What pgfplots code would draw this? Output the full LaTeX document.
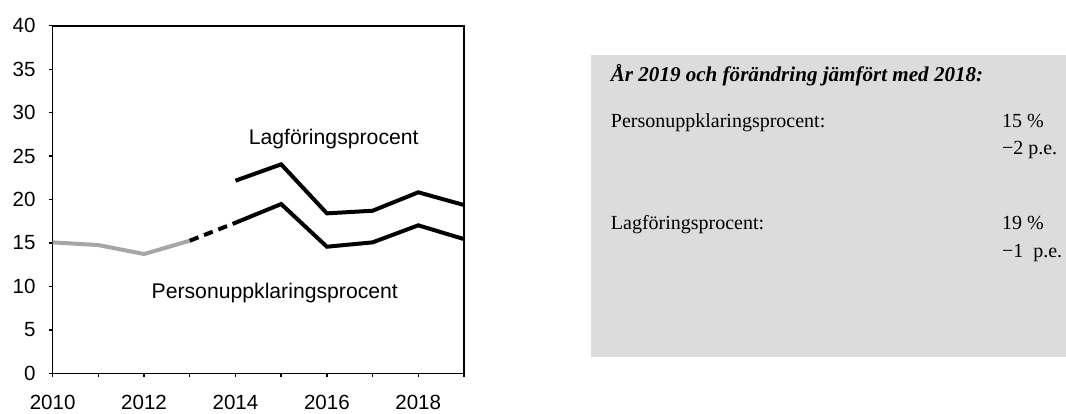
\documentclass[border=0pt]{standalone}
\usepackage{pgfplots}
\pgfplotsset{compat=1.18}
\usepackage{fontspec}
\setmainfont{Liberation Sans}
\newfontfamily\boxfont{Liberation Serif}
\definecolor{boxgray}{HTML}{DCDCDC}
\definecolor{linegray}{HTML}{A6A6A6}
\newcommand\tickfont{\fontsize{15.4}{18}\selectfont}
\newcommand\labelfont{\fontsize{15.9}{18}\selectfont}

\begin{document}
\begin{tikzpicture}[x=1pt,y=1pt]
\path (0,0) rectangle (799.5,306);
% grey summary box
\fill[boxgray] (443.25,38.25) rectangle (799.5,264.75);

\begin{axis}[
  at={(39.5pt,26pt)}, anchor=south west,
  scale only axis, width=308.5pt, height=260.7pt,
  xmin=2010, xmax=2019, ymin=0, ymax=40,
  xtick={2010,...,2019},
  xticklabels={2010,,2012,,2014,,2016,,2018,},
  ytick={0,5,...,40},
  tick pos=left, tick align=outside,
  major tick length=3pt,
  tick style={black, line width=1pt},
  axis line style={line width=1.25pt},
  tick label style={font=\tickfont},
  /pgf/number format/assume math mode=true,
  x tick label style={yshift=-9.5pt},
  y tick label style={xshift=-6.3pt},
]
\addplot[linegray, line width=3pt] coordinates {(2010,15.07)(2011,14.76)(2012,13.73)(2013,15.26)};
\addplot[black, line width=3pt, dash pattern=on 7pt off 4.5pt] coordinates {(2013,15.26)(2014,17.33)};
\addplot[black, line width=3pt] coordinates {(2014,17.33)(2015,19.48)(2016,14.57)(2017,15.07)(2018,17.03)(2019,15.45)};
\addplot[black, line width=3pt] coordinates {(2014,22.17)(2015,24.05)(2016,18.41)(2017,18.71)(2018,20.83)(2019,19.37)};
\node[font=\labelfont] at (axis cs:2016.15,26.96) {Lagföringsprocent};
\node[font=\labelfont] at (axis cs:2014.86,9.24) {Personuppklaringsprocent};
\end{axis}

\begin{scope}[every node/.style={font=\boxfont\fontsize{15}{18}\selectfont, inner sep=0pt, anchor=base west}]
\node[font=\boxfont\fontsize{15.8}{18}\selectfont] at (458,244.7) {\bfseries\itshape År 2019 och förändring jämfört med 2018:};
\node at (458,210.5) {Personuppklaringsprocent:};
\node at (751.3,210.5) {15 \%};
\node at (751.3,189.75) {−2 p.e.};
\node at (458,133.5) {Lagföringsprocent:};
\node at (751.3,133.5) {19 \%};
\node at (751.3,113) {−1\enspace p.e.};
\end{scope}
\end{tikzpicture}
\end{document}
